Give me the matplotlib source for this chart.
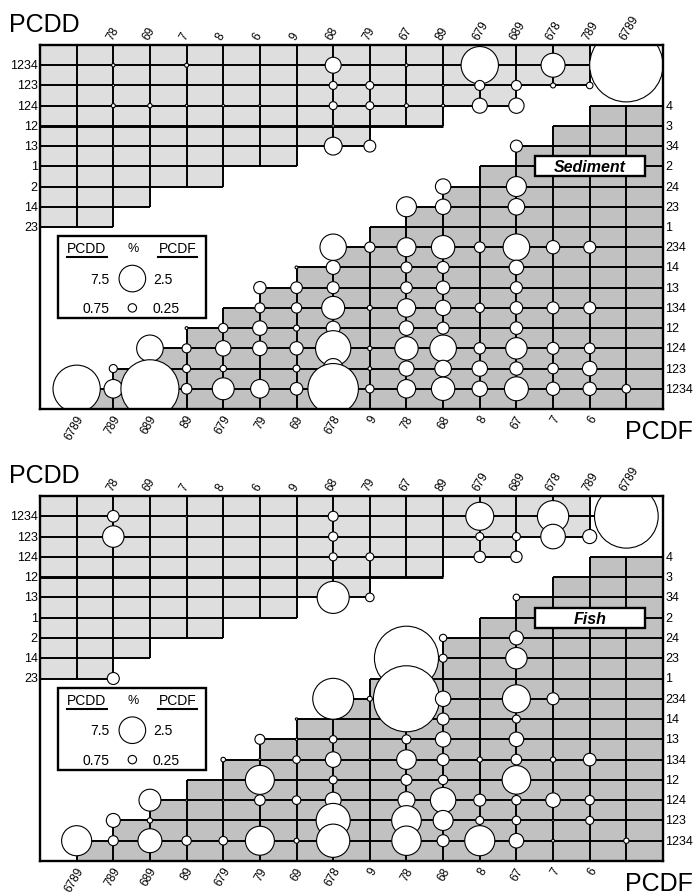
import numpy as np
import matplotlib.pyplot as plt
from matplotlib.patches import Rectangle

plt.rcParams['font.family'] = ['Liberation Sans', 'DejaVu Sans']

# axis labels of the two triangular matrices
dd_top = ['78', '69', '7', '8', '6', '9', '68', '79', '67', '89', '679', '689', '678', '789', '6789']
dd_left = ['1234', '123', '124', '12', '13', '1', '2', '14', '23']
df_bottom = ['6789', '789', '689', '89', '679', '79', '69', '678', '9', '78', '68', '8', '67', '7', '6', '']
df_right = ['4', '3', '34', '2', '24', '23', '1', '234', '14', '13', '134', '12', '124', '123', '1234']

# --- Sediment, PCDD (%)
sed_dd_col = ['78', '7', '68', '67', '679', '678', '6789',
              '78', '68', '79', '89', '679', '689', '678', '789',
              '78', '69', '7', '8', '6', '68', '79', '67', '89', '679', '689',
              '68',
              '78', '69', '68', '79']
sed_dd_row = ['1234', '1234', '1234', '1234', '1234', '1234', '1234',
              '123', '123', '123', '123', '123', '123', '123', '123',
              '124', '124', '124', '124', '124', '124', '124', '124', '124', '124', '124',
              '12',
              '13', '13', '13', '13']
sed_dd_pct = [0.12, 0.17, 2.7, 0.1, 14.8, 6.1, 57,
              0.06, 0.68, 0.68, 0.06, 1.06, 1.06, 0.27, 0.46,
              0.17, 0.2, 0.07, 0.07, 0.06, 0.68, 0.68, 0.17, 0.1, 2.4, 2.5,
              0.07,
              0.04, 0.04, 3.4, 1.5]

# --- Sediment, PCDF (%)
sed_df_col = ['6789',
              '789', '789',
              '689', '689',
              '89', '89', '89', '89',
              '679', '679', '679', '679',
              '79', '79', '79', '79', '79',
              '69', '69', '69', '69', '69', '69', '69',
              '678', '678', '678', '678', '678', '678', '678', '678',
              '9', '9', '9', '9', '9',
              '78', '78', '78', '78', '78', '78', '78', '78', '78',
              '68', '68', '68', '68', '68', '68', '68', '68', '68', '68',
              '8', '8', '8', '8', '8',
              '67', '67', '67', '67', '67', '67', '67', '67', '67', '67', '67',
              '7', '7', '7', '7', '7',
              '6', '6', '6', '6', '6',
              '']
sed_df_row = ['1234',
              '123', '1234',
              '124', '1234',
              '12', '124', '123', '1234',
              '12', '124', '123', '1234',
              '13', '134', '12', '124', '1234',
              '14', '13', '134', '12', '124', '123', '1234',
              '234', '14', '13', '134', '12', '124', '123', '1234',
              '234', '134', '124', '123', '1234',
              '23', '234', '14', '13', '134', '12', '124', '123', '1234',
              '24', '23', '234', '14', '13', '134', '12', '124', '123', '1234',
              '234', '134', '124', '123', '1234',
              '34', '24', '23', '234', '14', '13', '134', '12', '124', '123', '1234',
              '234', '134', '124', '123', '1234',
              '234', '134', '124', '123', '1234',
              '1234']
sed_df_pct = [7.9,
              0.23, 1.22,
              2.5, 11.9,
              0.03, 0.29, 0.23, 0.4,
              0.31, 0.84, 0.15, 1.7,
              0.54, 0.35, 0.75, 0.75, 1.22,
              0.03, 0.48, 0.38, 0.13, 0.63, 0.17, 0.56,
              2.46, 0.69, 0.51, 1.87, 0.69, 4.4, 1.41, 9.0,
              0.38, 0.09, 0.07, 0.05, 0.25,
              1.41, 1.28, 0.43, 0.48, 1.2, 0.75, 1.93, 0.82, 1.2,
              0.84, 0.84, 1.93, 0.51, 0.63, 0.84, 0.51, 2.5, 0.97, 1.93,
              0.4, 0.31, 0.46, 0.84, 0.84,
              0.51, 1.41, 0.97, 2.5, 0.75, 0.51, 0.56, 0.56, 1.62, 0.63, 2.03,
              0.63, 0.51, 0.51, 0.4, 0.63,
              0.51, 0.51, 0.4, 0.75, 0.63,
              0.26]

# --- Fish, PCDD (%)
fish_dd_col = ['78', '7', '68', '679', '678', '6789',
               '78', '68', '679', '689', '678', '789',
               '69', '68', '79', '679', '689',
               '68', '79',
               '78']
fish_dd_row = ['1234', '1234', '1234', '1234', '1234', '1234',
               '123', '123', '123', '123', '123', '123',
               '124', '124', '124', '124', '124',
               '13', '13',
               '23']
fish_dd_pct = [1.43, 0.04, 1.06, 8.3, 10.4, 43,
               4.9, 0.9, 0.68, 0.68, 6.4, 2.1,
               0.04, 0.68, 0.68, 1.38, 1.38,
               10.9, 0.78,
               1.53]

# --- Fish, PCDF (%)
fish_df_col = ['6789',
               '789', '789',
               '689', '689', '689',
               '89', '89',
               '679', '679', '679',
               '79', '79', '79', '79', '79',
               '69', '69', '69', '69', '69',
               '678', '678', '678', '678', '678', '678', '678',
               '9', '9',
               '78', '78', '78', '78', '78', '78', '78', '78',
               '68', '68', '68', '68', '68', '68', '68', '68', '68', '68',
               '8', '8', '8', '8', '8',
               '67', '67', '67', '67', '67', '67', '67', '67', '67', '67', '67',
               '7', '7', '7', '7', '7',
               '6', '6', '6', '6',
               '']
fish_df_row = ['1234',
               '123', '1234',
               '124', '123', '1234',
               '124', '1234',
               '134', '124', '1234',
               '13', '134', '12', '124', '1234',
               '14', '13', '134', '124', '1234',
               '234', '13', '134', '12', '124', '123', '1234',
               '234', '134',
               '23', '234', '13', '134', '12', '124', '123', '1234',
               '24', '23', '234', '14', '13', '134', '12', '124', '123', '1234',
               '234', '134', '124', '123', '1234',
               '34', '24', '23', '234', '14', '13', '134', '12', '124', '123', '1234',
               '234', '134', '124', '123', '1234',
               '234', '134', '124', '123',
               '1234']
fish_df_pct = [3.2,
               0.69, 0.35,
               1.7, 0.1, 2.03,
               0.015, 0.31,
               0.075, 0.015, 0.26,
               0.35, 0.02, 2.97, 0.4, 2.97,
               0.02, 0.02, 0.2, 0.26, 0.09,
               5.9, 0.2, 0.86, 0.23, 0.9, 4.1, 3.9,
               0.09, 0.015,
               14.5, 15.4, 0.29, 1.36, 0.43, 1.02, 3.1, 3.05,
               0.19, 0.23, 0.84, 0.51, 0.84, 0.51, 0.31, 2.28, 1.41, 0.51,
               0.015, 0.1, 0.51, 0.23, 3.2,
               0.15, 0.69, 1.62, 2.77, 0.23, 0.75, 0.4, 2.89, 0.31, 0.26, 0.75,
               0.51, 0.1, 0.75, 0.015, 0.03,
               0.015, 0.56, 0.31, 0.23,
               0.1]

# legend reference sizes: PCDD 7.5 / 0.75, PCDF 2.5 / 0.25
DD_REF, DF_REF, REF_PX = 7.5, 2.5, 13.3
LIGHT, DARK = '#dedede', '#c1c1c1'
LW = 1.4

W, H = 695, 895
fig = plt.figure(figsize=(W / 100, H / 100), dpi=100)


def msize(pct, ref):
    r = REF_PX * np.sqrt(np.asarray(pct, dtype=float) / ref)
    return (2 * r * 72 / 100) ** 2


def draw_panel(ax, name, dd_col, dd_row, dd_pct, df_col, df_row, df_pct):
    ax.set_xlim(0, 17)
    ax.set_ylim(18, 0)
    ax.set_xticks([])
    ax.set_yticks([])
    for s in ax.spines.values():
        s.set_linewidth(1.7)
        s.set_zorder(6)

    # PCDD staircase (upper left)
    band_end = [15, 15, 13, 11, 9, 7, 5, 3, 2]
    row_end = [16, 15, 13, 11, 9, 7, 5, 3, 2]
    poly = [(0, 0)]
    for i, e in enumerate(band_end):
        poly += [(e, i), (e, i + 1)]
    poly += [(0, len(band_end))]
    xs, ys = zip(*poly)
    ax.fill(xs, ys, color=LIGHT, lw=0, zorder=1)
    for j, e in enumerate(row_end, start=1):
        w = LW * 1.5 if j == 4 else LW
        ax.plot([0, e], [j, j], color='k', lw=w, zorder=2, solid_capstyle='butt')
    for k in range(1, 17):
        jend = max(j for j, e in enumerate(row_end, start=1) if e >= k)
        ax.plot([k, k], [0, jend], color='k', lw=LW, zorder=2, solid_capstyle='butt')

    # PCDF staircase (lower right)
    poly = [(17, 3), (17, 18), (1, 18)]
    for j in range(17, 2, -1):
        poly += [(18 - j, j + 1), (18 - j, j)]
    xs, ys = zip(*poly)
    ax.fill(xs, ys, color=DARK, lw=0, zorder=1)
    for j in range(3, 18):
        ax.plot([18 - j, 17], [j, j], color='k', lw=LW, zorder=2, solid_capstyle='butt')
    for k in range(1, 17):
        ax.plot([k, k], [max(18 - k, 3), 18], color='k', lw=LW, zorder=2, solid_capstyle='butt')

    # bubbles
    x = [dd_top.index(c) + 2 for c in dd_col]
    y = [dd_left.index(r) + 1 for r in dd_row]
    ax.scatter(x, y, s=msize(dd_pct, DD_REF), facecolor='white', edgecolor='k',
               linewidth=0.8, zorder=3)
    x = [df_bottom.index(c) + 1 for c in df_col]
    y = [df_right.index(r) + 3 for r in df_row]
    ax.scatter(x, y, s=msize(df_pct, DF_REF), facecolor='white', edgecolor='k',
               linewidth=0.8, zorder=3)

    # axis labels
    for i, t in enumerate(dd_top):
        ax.text(i + 2 - 0.11, -0.3, t, rotation=60, rotation_mode='anchor',
                ha='left', va='center', fontsize=8.5)
    for i, t in enumerate(dd_left):
        ax.text(-0.06, i + 1, t, ha='right', va='center', fontsize=9)
    for i, t in enumerate(df_bottom):
        ax.text(i + 1 + 0.11, 18.33, t, rotation=60, rotation_mode='anchor',
                ha='right', va='center', fontsize=8.5)
    for i, t in enumerate(df_right):
        ax.text(17.06, i + 3, t, ha='left', va='center', fontsize=9)
    ax.text(-0.85, -0.69, 'PCDD', ha='left', va='baseline', fontsize=18)
    ax.text(17.82, 19.45, 'PCDF', ha='right', va='baseline', fontsize=18)

    # sample name box
    ax.add_patch(Rectangle((13.5, 5.5), 3, 1, facecolor='white', edgecolor='k',
                           lw=1.7, zorder=4))
    ax.text(15, 6.03, name, ha='center', va='center', fontsize=11.5,
            fontweight='bold', fontstyle='italic', zorder=5)

    # size legend
    ax.add_patch(Rectangle((0.5, 9.45), 4.03, 4.05, facecolor='white', edgecolor='k',
                           lw=1.7, zorder=4))
    ax.text(1.28, 10.05, 'PCDD', ha='center', va='center', fontsize=10, zorder=5)
    ax.text(2.53, 10.05, '%', ha='center', va='center', fontsize=9, zorder=5)
    ax.text(3.76, 10.05, 'PCDF', ha='center', va='center', fontsize=10, zorder=5)
    ax.plot([0.74, 1.83], [10.48, 10.48], color='k', lw=1.5, zorder=5)
    ax.plot([3.22, 4.29], [10.48, 10.48], color='k', lw=1.5, zorder=5)
    ax.scatter([2.52, 2.52], [11.55, 13.0], s=msize([7.5, 0.75], DD_REF),
               facecolor='white', edgecolor='k', linewidth=0.8, zorder=5)
    ax.text(1.91, 11.55, '7.5', ha='right', va='center', fontsize=10, zorder=5)
    ax.text(3.08, 11.55, '2.5', ha='left', va='center', fontsize=10, zorder=5)
    ax.text(1.91, 13.0, '0.75', ha='right', va='center', fontsize=10, zorder=5)
    ax.text(3.08, 13.0, '0.25', ha='left', va='center', fontsize=10, zorder=5)


ax1 = fig.add_axes([40 / W, (H - 410) / H, 623 / W, 364 / H])
draw_panel(ax1, 'Sediment', sed_dd_col, sed_dd_row, sed_dd_pct,
           sed_df_col, sed_df_row, sed_df_pct)
ax2 = fig.add_axes([40 / W, (H - 862) / H, 623 / W, 365 / H])
draw_panel(ax2, 'Fish', fish_dd_col, fish_dd_row, fish_dd_pct,
           fish_df_col, fish_df_row, fish_df_pct)

fig.savefig('out.png', dpi=100)
